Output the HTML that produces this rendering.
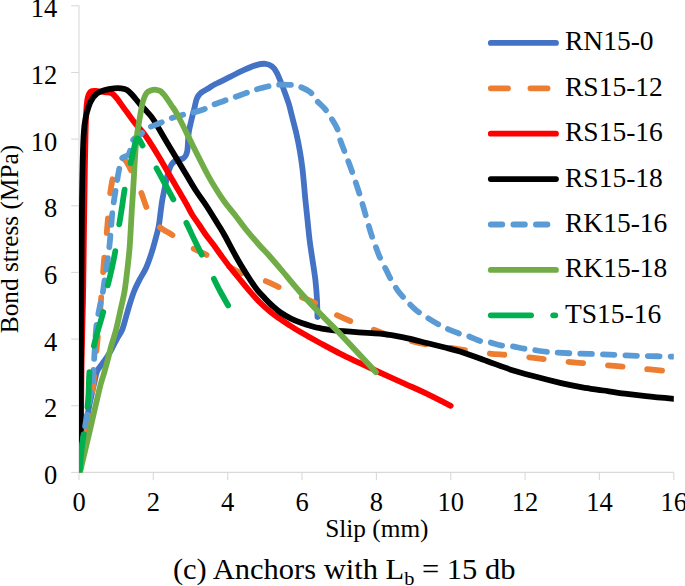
<!DOCTYPE html>
<html><head><meta charset="utf-8"><style>
html,body{margin:0;padding:0;background:#fff;width:685px;height:586px;overflow:hidden}
svg{display:block}
.t{font-family:"Liberation Serif",serif;font-size:26.5px;fill:#000}
.a{font-family:"Liberation Serif",serif;font-size:25.3px;fill:#000}
.l{font-family:"Liberation Serif",serif;font-size:27.5px;fill:#000}
.c{font-family:"Liberation Serif",serif;font-size:29.2px;fill:#000}
</style></head><body>
<svg width="685" height="586" viewBox="0 0 685 586">
<defs><clipPath id="pa"><rect x="79.0" y="0" width="594.8" height="472.9"/></clipPath></defs>
<path d="M79.0 5.8V472.4H673.8" fill="none" stroke="#d9d9d9" stroke-width="1.1"/>
<path d="M71.2 472.4H79.0" stroke="#d9d9d9" stroke-width="1.1"/>
<text x="57.3" y="484.0" text-anchor="end" class="t">0</text>
<path d="M71.2 405.7H79.0" stroke="#d9d9d9" stroke-width="1.1"/>
<text x="57.3" y="417.3" text-anchor="end" class="t">2</text>
<path d="M71.2 339.1H79.0" stroke="#d9d9d9" stroke-width="1.1"/>
<text x="57.3" y="350.7" text-anchor="end" class="t">4</text>
<path d="M71.2 272.4H79.0" stroke="#d9d9d9" stroke-width="1.1"/>
<text x="57.3" y="284.0" text-anchor="end" class="t">6</text>
<path d="M71.2 205.8H79.0" stroke="#d9d9d9" stroke-width="1.1"/>
<text x="57.3" y="217.4" text-anchor="end" class="t">8</text>
<path d="M71.2 139.1H79.0" stroke="#d9d9d9" stroke-width="1.1"/>
<text x="57.3" y="150.7" text-anchor="end" class="t">10</text>
<path d="M71.2 72.5H79.0" stroke="#d9d9d9" stroke-width="1.1"/>
<text x="57.3" y="84.1" text-anchor="end" class="t">12</text>
<path d="M71.2 5.8H79.0" stroke="#d9d9d9" stroke-width="1.1"/>
<text x="57.3" y="17.4" text-anchor="end" class="t">14</text>
<path d="M79.0 472.4V480" stroke="#d9d9d9" stroke-width="1.1"/>
<text x="79.0" y="510.6" text-anchor="middle" class="t">0</text>
<path d="M153.3 472.4V480" stroke="#d9d9d9" stroke-width="1.1"/>
<text x="153.3" y="510.6" text-anchor="middle" class="t">2</text>
<path d="M227.7 472.4V480" stroke="#d9d9d9" stroke-width="1.1"/>
<text x="227.7" y="510.6" text-anchor="middle" class="t">4</text>
<path d="M302.0 472.4V480" stroke="#d9d9d9" stroke-width="1.1"/>
<text x="302.0" y="510.6" text-anchor="middle" class="t">6</text>
<path d="M376.4 472.4V480" stroke="#d9d9d9" stroke-width="1.1"/>
<text x="376.4" y="510.6" text-anchor="middle" class="t">8</text>
<path d="M450.8 472.4V480" stroke="#d9d9d9" stroke-width="1.1"/>
<text x="450.8" y="510.6" text-anchor="middle" class="t">10</text>
<path d="M525.1 472.4V480" stroke="#d9d9d9" stroke-width="1.1"/>
<text x="525.1" y="510.6" text-anchor="middle" class="t">12</text>
<path d="M599.4 472.4V480" stroke="#d9d9d9" stroke-width="1.1"/>
<text x="599.4" y="510.6" text-anchor="middle" class="t">14</text>
<path d="M673.8 472.4V480" stroke="#d9d9d9" stroke-width="1.1"/>
<text x="673.8" y="510.6" text-anchor="middle" class="t">16</text>
<text class="a" transform="translate(17.9 333.2) rotate(-90)">Bond stress (MPa)</text>
<text class="a" x="325.2" y="536.8">Slip (mm)</text>
<text class="c" transform="translate(172.9 579.3) scale(1.045 1)">(c) Anchors with L<tspan font-size="19.5" dy="5.5">b</tspan><tspan dy="-5.5"> = 15 db</tspan></text>
<g clip-path="url(#pa)">
<path d="M79.5 471.0C80.2 465.8 82.5 450.2 84.0 440.0C85.5 429.8 87.2 417.8 88.5 410.0C89.8 402.2 91.0 397.8 92.0 393.0C93.0 388.2 93.9 384.6 94.7 381.0C95.5 377.4 95.8 374.3 97.0 371.5C98.2 368.7 100.2 366.7 102.0 364.0C103.8 361.3 106.2 358.4 108.0 355.5C109.8 352.6 111.4 349.5 113.0 346.5C114.6 343.5 116.1 340.2 117.6 337.5C119.1 334.8 120.7 333.4 122.1 330.0C123.5 326.6 124.8 321.2 126.0 317.0C127.2 312.8 128.3 308.9 129.6 304.6C130.9 300.4 132.4 295.6 134.0 291.5C135.6 287.4 137.4 283.9 139.4 280.0C141.4 276.1 144.0 272.5 145.9 268.3C147.8 264.1 149.5 259.1 151.0 254.6C152.5 250.0 153.8 245.6 155.0 241.0C156.2 236.4 157.6 232.0 158.5 227.3C159.4 222.6 159.9 217.6 160.5 213.0C161.1 208.4 161.6 204.0 162.3 200.0C163.0 196.0 163.8 192.4 164.5 189.0C165.2 185.6 165.8 182.5 166.5 179.5C167.2 176.5 167.9 173.5 168.7 171.0C169.5 168.5 170.4 166.2 171.5 164.5C172.6 162.8 173.8 161.8 175.0 161.0C176.2 160.2 177.7 159.9 179.0 159.5C180.3 159.1 181.9 159.2 183.0 158.5C184.1 157.8 185.1 156.8 185.8 155.5C186.5 154.2 186.9 153.1 187.3 150.8C187.7 148.6 187.8 145.1 188.0 142.0C188.2 138.9 188.3 135.2 188.8 132.0C189.3 128.8 189.9 126.4 190.8 122.6C191.7 118.8 193.2 113.0 194.2 109.0C195.2 105.0 195.7 101.4 196.8 98.7C197.9 96.0 198.9 94.6 201.0 92.8C203.1 91.0 207.2 89.1 209.5 87.7C211.8 86.3 211.6 86.1 215.0 84.3C218.4 82.5 225.3 79.2 230.0 76.9C234.7 74.6 238.7 72.4 243.1 70.4C247.5 68.4 252.6 66.2 256.3 65.1C260.0 64.0 262.9 63.6 265.5 63.8C268.1 64.0 270.1 65.0 272.0 66.4C273.9 67.8 275.2 69.8 276.6 72.3C278.0 74.8 279.2 78.0 280.6 81.5C282.0 85.0 283.8 89.6 285.2 93.4C286.6 97.2 287.8 100.5 289.0 104.5C290.2 108.5 290.9 112.2 292.2 117.1C293.4 122.0 295.2 128.4 296.5 134.1C297.8 139.8 298.9 145.5 299.9 151.2C300.9 156.9 301.7 162.6 302.4 168.3C303.1 174.0 303.6 180.1 304.1 185.4C304.6 190.7 304.8 194.2 305.4 200.0C306.0 205.8 306.8 213.3 307.5 220.0C308.2 226.7 308.8 233.3 309.6 240.0C310.4 246.7 311.5 253.2 312.5 260.0C313.5 266.8 314.8 274.3 315.5 281.0C316.2 287.7 316.7 294.0 317.0 300.0C317.3 306.0 317.4 314.2 317.5 317.0" fill="none" stroke="#4472C4" stroke-width="5.8" stroke-linecap="round" stroke-linejoin="round"/>
<path d="M79.5 471.0C80.6 464.2 83.9 442.7 86.0 430.0C88.1 417.3 90.2 408.3 92.0 395.0C93.8 381.7 95.3 361.7 96.5 350.0C97.7 338.3 98.2 333.3 99.0 325.0C99.8 316.7 100.2 309.7 101.0 300.0C101.8 290.3 102.8 276.2 103.5 267.0C104.2 257.8 104.9 251.2 105.5 245.0C106.1 238.8 106.5 235.5 107.0 230.0C107.5 224.5 108.0 217.8 108.5 212.0C109.0 206.2 109.4 200.0 110.0 195.0C110.6 190.0 111.1 186.8 112.0 182.0C112.9 177.2 114.2 169.8 115.5 166.0C116.8 162.2 118.6 160.2 120.0 159.0C121.4 157.8 122.5 157.8 124.0 159.0C125.5 160.2 127.3 163.0 129.0 166.0C130.7 169.0 132.1 172.9 134.0 177.0C135.9 181.1 138.3 185.3 140.4 190.4C142.5 195.5 144.7 203.0 146.5 207.3C148.3 211.6 149.1 212.9 151.0 216.0C152.9 219.1 154.3 222.4 158.0 225.7C161.7 229.0 167.9 232.1 173.4 235.7C178.9 239.3 185.2 243.9 191.0 247.2C196.8 250.5 201.5 252.3 208.0 255.6C214.5 258.9 224.5 264.1 230.0 267.0C235.5 269.9 235.3 270.8 240.8 273.0C246.3 275.2 256.5 277.6 263.0 280.0C269.5 282.4 273.9 284.9 279.9 287.6C285.9 290.3 293.0 293.4 299.1 296.1C305.2 298.8 311.0 300.9 316.8 303.8C322.6 306.7 328.1 310.7 334.0 313.7C339.9 316.7 346.3 319.4 352.4 321.9C358.5 324.4 364.8 326.3 370.8 328.5C376.8 330.7 382.0 333.0 388.3 335.0C394.6 337.0 401.9 338.9 408.5 340.5C415.1 342.1 421.1 343.6 427.7 344.8C434.3 346.0 441.8 346.7 448.4 347.6C455.0 348.5 461.2 349.5 467.6 350.4C474.0 351.3 480.2 352.4 486.8 353.2C493.4 354.0 500.7 354.4 507.3 355.0C513.9 355.6 519.9 356.3 526.5 357.0C533.1 357.7 540.4 358.6 546.9 359.4C553.4 360.1 559.0 360.8 565.4 361.5C571.8 362.2 579.0 362.8 585.5 363.4C592.0 364.0 597.9 364.4 604.6 365.0C611.3 365.6 619.2 366.4 625.7 367.0C632.2 367.6 637.2 368.3 643.7 368.9C650.2 369.5 659.9 370.4 664.9 370.8C669.9 371.2 672.3 371.5 673.8 371.6" fill="none" stroke="#ED7D31" stroke-width="5.8" stroke-linecap="round" stroke-linejoin="round" stroke-dasharray="14.5 25.1" stroke-dashoffset="-2.3"/>
<path d="M81.0 445.0C81.0 437.5 81.1 412.5 81.2 400.0C81.3 387.5 81.4 379.2 81.5 370.0C81.6 360.8 81.8 353.3 82.0 345.0C82.2 336.7 82.3 327.5 82.5 320.0C82.7 312.5 82.8 310.0 83.0 300.0C83.2 290.0 83.4 273.3 83.6 260.0C83.8 246.7 83.9 233.3 84.1 220.0C84.3 206.7 84.5 194.0 84.7 180.0C84.9 166.0 85.2 147.3 85.5 136.0C85.8 124.7 85.9 118.0 86.2 112.0C86.5 106.0 86.8 103.0 87.3 100.0C87.8 97.0 88.3 95.5 89.0 94.0C89.7 92.5 90.3 91.7 91.5 91.2C92.7 90.7 94.1 90.9 96.0 91.0C97.9 91.1 101.0 91.7 103.0 91.9C105.0 92.1 106.5 92.2 108.0 92.4C109.5 92.6 110.7 92.8 111.8 93.3C112.9 93.8 113.5 94.5 114.5 95.6C115.5 96.6 115.8 96.9 117.8 99.6C119.8 102.3 123.8 108.0 126.8 112.0C129.8 116.0 132.5 120.0 135.5 123.8C138.5 127.6 141.2 129.8 145.0 135.0C148.8 140.2 153.9 148.5 158.0 155.2C162.1 161.9 166.4 169.7 169.5 175.0C172.6 180.3 174.4 183.5 176.5 187.0C178.6 190.5 180.1 193.0 181.8 196.0C183.6 199.0 185.2 201.8 187.0 205.0C188.8 208.2 190.3 211.7 192.4 215.0C194.5 218.3 197.0 221.7 199.3 225.0C201.6 228.3 203.8 231.9 206.0 235.0C208.2 238.1 209.9 240.0 212.4 243.3C214.9 246.6 218.0 251.2 220.8 255.0C223.6 258.8 226.2 262.4 229.0 266.0C231.8 269.6 234.0 272.3 237.5 276.5C241.0 280.7 246.0 287.0 249.8 291.4C253.6 295.8 256.8 299.4 260.2 302.8C263.6 306.2 267.1 309.2 270.5 312.0C273.9 314.8 277.4 317.1 280.7 319.4C283.9 321.7 286.8 323.5 290.0 325.6C293.2 327.7 295.0 328.9 300.0 331.8C305.0 334.7 313.3 339.4 320.0 343.0C326.7 346.6 333.3 350.2 340.0 353.6C346.7 357.0 353.5 360.1 360.0 363.2C366.5 366.3 371.3 368.6 378.8 372.0C386.3 375.4 397.3 380.3 405.0 383.8C412.7 387.3 417.4 389.2 425.0 392.9C432.6 396.6 446.4 403.6 450.7 405.8" fill="none" stroke="#FF0000" stroke-width="5.8" stroke-linecap="round" stroke-linejoin="round"/>
<path d="M80.5 452.0C80.5 443.3 80.7 425.3 80.8 400.0C80.9 374.7 81.1 333.3 81.3 300.0C81.5 266.7 81.7 225.0 82.0 200.0C82.3 175.0 82.6 162.5 83.0 150.0C83.4 137.5 83.8 131.3 84.5 125.0C85.2 118.7 85.9 116.0 87.0 112.0C88.1 108.0 89.3 104.1 91.0 101.0C92.7 97.9 94.7 95.3 97.0 93.5C99.3 91.7 102.2 90.9 105.0 90.0C107.8 89.1 111.3 88.6 114.0 88.3C116.7 88.0 118.8 88.0 121.0 88.3C123.2 88.6 125.1 88.9 127.0 90.0C128.9 91.1 130.1 92.6 132.3 95.0C134.5 97.4 137.8 101.7 140.3 104.5C142.8 107.3 145.1 109.4 147.3 112.0C149.5 114.6 150.7 115.3 153.7 120.0C156.7 124.7 161.5 133.3 165.5 140.0C169.5 146.7 174.0 154.2 177.5 160.0C181.0 165.8 183.5 170.0 186.5 175.0C189.5 180.0 192.3 185.0 195.5 190.0C198.7 195.0 202.1 199.2 205.9 205.0C209.7 210.8 215.3 220.0 218.4 225.0C221.5 230.0 221.6 230.0 224.4 235.0C227.2 240.0 232.3 249.8 235.2 255.0C238.0 260.2 239.4 262.4 241.5 266.0C243.6 269.6 246.1 273.5 248.0 276.5C249.9 279.5 251.3 281.6 253.0 284.0C254.7 286.4 256.0 288.4 258.0 290.8C260.0 293.2 262.8 296.1 265.0 298.5C267.2 300.9 268.9 302.7 271.5 305.0C274.1 307.3 277.2 310.2 280.5 312.5C283.8 314.8 287.6 316.9 291.0 318.6C294.4 320.3 297.7 321.6 301.0 322.8C304.3 324.0 307.8 325.1 311.0 326.0C314.2 326.9 316.2 327.5 320.0 328.2C323.8 328.9 327.5 329.7 334.0 330.4C340.5 331.1 351.1 331.8 358.8 332.3C366.5 332.9 372.6 332.9 380.0 333.7C387.4 334.5 395.6 335.8 403.4 337.4C411.2 338.9 419.8 341.3 426.7 343.0C433.6 344.7 439.4 346.1 445.0 347.5C450.6 348.9 453.0 349.4 460.0 351.6C467.0 353.9 478.1 357.9 486.8 361.0C495.5 364.1 503.9 367.5 512.4 370.2C520.9 372.9 529.9 375.1 538.0 377.3C546.1 379.5 553.8 381.4 561.2 383.1C568.6 384.8 575.2 386.1 582.3 387.3C589.3 388.5 596.4 389.4 603.5 390.5C610.6 391.6 617.7 392.8 624.7 393.7C631.8 394.6 637.6 395.3 645.8 396.2C654.0 397.1 669.1 398.4 673.8 398.8" fill="none" stroke="#000000" stroke-width="5.8" stroke-linecap="round" stroke-linejoin="round"/>
<path d="M79.5 471.0C80.1 465.8 81.9 448.3 83.0 440.0C84.1 431.7 84.9 427.7 86.0 421.0C87.1 414.3 88.5 405.5 89.5 400.0C90.5 394.5 91.0 393.0 91.7 388.0C92.4 383.0 93.0 377.2 93.5 370.0C94.0 362.8 94.5 352.5 95.0 345.0C95.5 337.5 95.9 330.3 96.5 325.0C97.1 319.7 97.8 316.6 98.5 313.0C99.2 309.4 99.8 306.7 100.5 303.4C101.2 300.1 102.0 296.7 102.7 293.0C103.4 289.3 103.9 284.7 104.5 281.0C105.1 277.3 105.6 274.8 106.2 271.0C106.8 267.2 107.4 262.0 107.9 258.2C108.4 254.4 108.8 251.6 109.2 248.0C109.6 244.4 110.0 240.4 110.3 236.8C110.6 233.2 110.9 230.4 111.2 226.5C111.5 222.6 111.9 216.9 112.3 213.2C112.7 209.4 113.0 207.7 113.5 204.0C114.0 200.3 114.9 194.8 115.5 191.0C116.1 187.2 116.4 184.9 117.0 181.4C117.6 177.9 118.2 173.8 119.0 170.0C119.8 166.2 120.7 161.2 121.7 158.9C122.7 156.7 123.9 157.2 125.0 156.5C126.1 155.8 127.5 156.0 128.5 154.6C129.5 153.2 130.2 150.5 131.0 148.0C131.8 145.5 131.9 141.8 133.5 139.5C135.1 137.2 138.2 136.2 140.5 134.4C142.8 132.6 143.8 130.3 147.1 128.4C150.4 126.5 156.9 124.5 160.3 123.0C163.7 121.5 163.9 120.7 167.4 119.4C170.9 118.1 177.4 116.3 181.2 115.3C185.0 114.3 186.4 114.1 190.0 113.2C193.6 112.3 199.2 111.1 202.7 109.8C206.2 108.5 207.8 107.0 211.2 105.6C214.6 104.2 219.6 102.5 223.2 101.2C226.8 99.9 228.9 99.3 232.6 98.0C236.2 96.7 241.6 94.7 245.1 93.4C248.6 92.1 250.1 91.2 253.7 90.1C257.3 89.0 263.2 87.7 266.8 86.8C270.4 85.9 271.5 85.1 275.3 84.8C279.1 84.5 286.0 84.6 289.8 84.8C293.6 85.0 294.9 84.9 298.3 86.1C301.7 87.3 307.1 89.7 310.1 92.0C313.1 94.3 313.7 97.2 316.1 100.0C318.5 102.8 322.2 105.7 324.6 108.5C327.0 111.3 328.5 113.7 330.6 117.1C332.7 120.5 335.8 125.2 337.4 129.0C339.0 132.8 339.1 136.5 340.2 140.0C341.3 143.5 342.7 146.6 344.0 150.0C345.3 153.4 346.6 157.0 347.9 160.3C349.1 163.6 350.2 166.5 351.5 170.0C352.8 173.5 354.1 177.7 355.4 181.5C356.7 185.3 357.9 188.9 359.2 193.0C360.5 197.1 361.5 200.7 363.0 205.8C364.5 210.9 366.6 218.6 368.1 223.7C369.6 228.8 370.7 232.7 372.0 236.5C373.3 240.3 374.5 243.4 375.8 246.8C377.1 250.2 378.0 253.2 379.7 257.0C381.4 260.8 384.2 266.0 386.1 269.8C388.0 273.6 389.3 276.6 391.2 280.0C393.1 283.4 395.5 287.3 397.6 290.3C399.7 293.3 402.1 295.8 404.0 298.0C405.9 300.2 407.0 301.4 409.1 303.5C411.2 305.6 413.8 308.4 416.8 310.7C419.8 313.0 423.4 315.2 427.0 317.5C430.6 319.8 435.1 322.5 438.2 324.3C441.3 326.1 442.4 326.7 445.8 328.2C449.2 329.7 455.0 332.0 458.6 333.3C462.2 334.6 464.0 334.5 467.6 335.8C471.2 337.1 476.8 339.9 480.4 341.0C484.0 342.1 485.7 341.4 489.3 342.2C492.9 343.0 498.5 345.0 502.1 345.6C505.7 346.2 507.5 345.6 511.1 346.1C514.7 346.6 520.3 348.0 523.9 348.6C527.5 349.2 529.3 349.4 532.9 349.9C536.5 350.4 541.9 351.3 545.7 351.7C549.5 352.1 550.7 352.2 555.9 352.5C561.1 352.8 569.6 353.3 577.0 353.6C584.4 353.9 592.5 353.9 600.0 354.2C607.5 354.5 614.3 355.0 622.0 355.3C629.7 355.6 637.4 355.8 646.0 356.0C654.6 356.2 669.2 356.5 673.8 356.6" fill="none" stroke="#5B9BD5" stroke-width="5.8" stroke-linecap="round" stroke-linejoin="round" stroke-dasharray="11.5 11.07" stroke-dashoffset="-0.3"/>
<path d="M80.3 471.0C81.8 464.5 86.3 445.5 89.5 432.0C92.7 418.5 96.9 399.5 99.2 390.0C101.5 380.5 102.1 379.9 103.5 375.0C104.9 370.1 106.2 365.7 107.5 360.7C108.8 355.7 110.1 350.1 111.5 345.0C112.9 339.9 114.5 335.8 116.0 330.0C117.5 324.2 119.1 316.5 120.5 310.0C121.9 303.5 123.5 297.7 124.6 291.0C125.7 284.3 126.5 276.8 127.3 270.0C128.1 263.2 128.8 256.7 129.4 250.0C130.0 243.3 130.3 236.7 130.7 230.0C131.1 223.3 131.5 215.8 131.8 210.0C132.2 204.2 132.4 200.8 132.8 195.0C133.2 189.2 133.6 182.5 134.0 175.0C134.4 167.5 135.0 156.7 135.5 150.0C136.0 143.3 136.6 138.7 137.0 135.0C137.4 131.3 137.5 131.4 138.1 127.8C138.7 124.2 139.7 117.9 140.5 113.5C141.3 109.1 141.9 104.9 142.9 101.5C143.9 98.1 145.1 95.0 146.5 93.1C147.9 91.2 149.7 90.8 151.3 90.2C152.9 89.7 154.5 89.6 156.1 89.8C157.7 90.0 159.3 90.2 160.9 91.4C162.5 92.6 163.8 94.4 165.6 96.7C167.4 99.0 169.5 102.5 171.5 105.5C173.5 108.5 174.0 108.3 177.6 115.0C181.2 121.7 187.9 135.7 192.9 145.7C197.9 155.7 203.9 167.6 207.8 175.0C211.8 182.4 213.7 185.4 216.6 190.0C219.5 194.6 221.9 198.3 225.0 202.5C228.1 206.7 231.4 210.4 235.0 215.0C238.6 219.6 242.4 225.0 246.4 230.0C250.4 235.0 255.5 240.8 259.2 245.0C262.9 249.2 264.9 250.8 268.6 255.0C272.3 259.2 276.5 264.1 281.5 270.0C286.5 275.9 292.3 283.2 298.7 290.5C305.1 297.8 313.1 306.3 320.0 313.5C326.9 320.7 333.7 327.1 340.0 333.7C346.3 340.3 352.0 346.6 358.0 353.0C364.0 359.4 372.9 369.0 375.9 372.2" fill="none" stroke="#70AD47" stroke-width="5.8" stroke-linecap="round" stroke-linejoin="round"/>
<path d="M79.8 471.5C80.1 467.9 80.8 456.6 81.5 450.0C82.2 443.4 83.1 438.5 84.0 432.0C84.9 425.5 86.2 417.2 87.0 411.0C87.8 404.8 88.1 401.7 88.5 395.0C88.9 388.3 88.8 378.5 89.5 371.0C90.2 363.5 91.6 356.8 93.0 350.0C94.4 343.2 96.2 336.5 98.0 330.0C99.8 323.5 102.0 317.8 103.5 311.0C105.0 304.2 105.7 295.8 107.0 289.0C108.3 282.2 110.1 276.5 111.5 270.0C112.9 263.5 114.3 257.2 115.5 250.0C116.7 242.8 117.8 233.7 118.9 226.5C120.0 219.3 121.0 213.5 122.0 207.0C123.0 200.5 123.8 193.8 125.0 187.6C126.2 181.4 127.8 175.4 129.0 170.0C130.2 164.6 131.4 159.7 132.5 155.0C133.6 150.3 134.7 144.8 135.5 142.0C136.3 139.2 136.5 138.8 137.2 138.5C137.9 138.2 138.4 138.4 139.5 140.0C140.6 141.6 141.3 143.5 143.9 147.8C146.5 152.1 151.5 159.7 155.0 165.7C158.5 171.7 161.7 177.9 165.0 184.0C168.3 190.1 171.6 196.3 175.0 202.4C178.4 208.5 182.1 214.7 185.3 220.8C188.5 226.9 191.1 233.0 194.0 239.0C196.9 245.0 199.7 250.6 202.7 256.6C205.7 262.7 209.2 269.6 212.1 275.3C215.0 281.0 217.3 286.0 220.0 291.0C222.7 296.0 226.8 303.0 228.1 305.4" fill="none" stroke="#00B050" stroke-width="5.8" stroke-linecap="round" stroke-linejoin="round" stroke-dasharray="35.3 26.8" stroke-dashoffset="-2.3"/>
</g>
<path d="M490.8 42.9H556" stroke="#4472C4" stroke-width="5.8" stroke-linecap="round"/>
<text class="l" x="565" y="50.3">RN15-0</text>
<path d="M490.8 88.3H556" stroke="#ED7D31" stroke-width="5.8" stroke-linecap="round" stroke-dasharray="17.2 22.4"/>
<text class="l" x="565" y="95.7">RS15-12</text>
<path d="M490.8 133.7H556" stroke="#FF0000" stroke-width="5.8" stroke-linecap="round"/>
<text class="l" x="565" y="141.1">RS15-16</text>
<path d="M490.8 179.1H556" stroke="#000000" stroke-width="5.8" stroke-linecap="round"/>
<text class="l" x="565" y="186.5">RS15-18</text>
<path d="M490.8 224.5H556" stroke="#5B9BD5" stroke-width="5.8" stroke-linecap="round" stroke-dasharray="11.5 11.07"/>
<text class="l" x="565" y="231.9">RK15-16</text>
<path d="M490.8 269.9H556" stroke="#70AD47" stroke-width="5.8" stroke-linecap="round"/>
<text class="l" x="565" y="277.3">RK15-18</text>
<path d="M490.8 315.3H531.1" stroke="#00B050" stroke-width="5.8" stroke-linecap="round"/>
<path d="M553.2 315.3H555.3" stroke="#00B050" stroke-width="5.8" stroke-linecap="round"/>
<text class="l" x="565" y="322.7">TS15-16</text>
</svg>
</body></html>
